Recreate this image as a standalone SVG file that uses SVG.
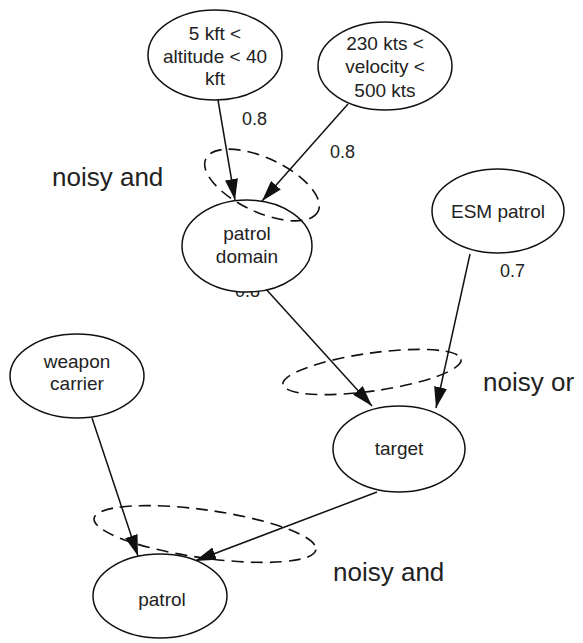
<svg xmlns="http://www.w3.org/2000/svg" width="583" height="643" viewBox="0 0 583 643">
<style>
.node ellipse{fill:#fff;stroke:#111;stroke-width:1.5}
.nt{font-family:"Liberation Sans",Arial,sans-serif;font-size:19px;fill:#222;text-anchor:middle}
.lbl{font-family:"Liberation Sans",Arial,sans-serif;font-size:18px;fill:#222}
.big{font-family:"Liberation Sans",Arial,sans-serif;font-size:26px;fill:#222}
.edge{stroke:#111;stroke-width:1.5;fill:none;marker-end:url(#ah)}
.dash{fill:none;stroke:#111;stroke-width:1.6;stroke-dasharray:12 7}
</style>
<defs>
<marker id="ah" markerWidth="21" markerHeight="13" refX="21" refY="6.5" orient="auto" markerUnits="userSpaceOnUse">
<path d="M0,0 L21,6.5 L0,13 z" fill="#111"/>
</marker>
</defs>
<rect width="583" height="643" fill="#fff"/>
<text class="lbl" x="235" y="297">0.8</text>
<g id="connectors">
<line class="edge" x1="218" y1="100" x2="235" y2="200"/>
<line class="edge" x1="348" y1="104" x2="262" y2="201"/>
<line class="edge" x1="265" y1="288" x2="372" y2="406"/>
<line class="edge" x1="470" y1="254" x2="436" y2="408"/>
<line class="edge" x1="92" y1="418" x2="138" y2="556"/>
<line class="edge" x1="377" y1="492" x2="195" y2="561"/>
</g>
<g id="node-altitude" class="node"><ellipse cx="215" cy="55" rx="67" ry="45"/>
<text class="nt" x="215" y="40">5 kft &lt;</text><text class="nt" x="215" y="63">altitude &lt; 40</text><text class="nt" x="215" y="85">kft</text></g>
<g id="node-velocity" class="node"><ellipse cx="385" cy="66" rx="67" ry="44"/>
<text class="nt" x="385" y="50">230 kts &lt;</text><text class="nt" x="385" y="73">velocity &lt;</text><text class="nt" x="385" y="97">500 kts</text></g>
<g id="node-patrol-domain" class="node"><ellipse cx="247" cy="246" rx="65" ry="46"/>
<text class="nt" x="247" y="240">patrol</text><text class="nt" x="247" y="263">domain</text></g>
<g id="node-esm" class="node"><ellipse cx="498" cy="211" rx="66" ry="42"/>
<text class="nt" x="498" y="218">ESM patrol</text></g>
<g id="node-weapon" class="node"><ellipse cx="77" cy="376" rx="67" ry="42"/>
<text class="nt" x="77" y="368">weapon</text><text class="nt" x="77" y="390">carrier</text></g>
<g id="node-target" class="node"><ellipse cx="399" cy="449" rx="66" ry="43"/>
<text class="nt" x="399" y="455">target</text></g>
<g id="node-patrol" class="node"><ellipse cx="160" cy="596" rx="67" ry="42"/>
<text class="nt" x="162" y="606">patrol</text></g>
<g id="gates">
<ellipse class="dash" cx="262" cy="185" rx="62" ry="27" transform="rotate(25 262 185)"/>
<ellipse class="dash" cx="372" cy="372" rx="90" ry="19" transform="rotate(-8 372 372)"/>
<ellipse class="dash" cx="205" cy="534" rx="112" ry="24" transform="rotate(8 205 534)"/>
</g>
<g id="labels">
<text class="lbl" x="242" y="125">0.8</text>
<text class="lbl" x="330" y="158">0.8</text>
<text class="lbl" x="500" y="277">0.7</text>
<text class="big" x="52" y="186">noisy and</text>
<text class="big" x="483" y="391">noisy or</text>
<text class="big" x="333" y="581">noisy and</text>
</g>
</svg>
